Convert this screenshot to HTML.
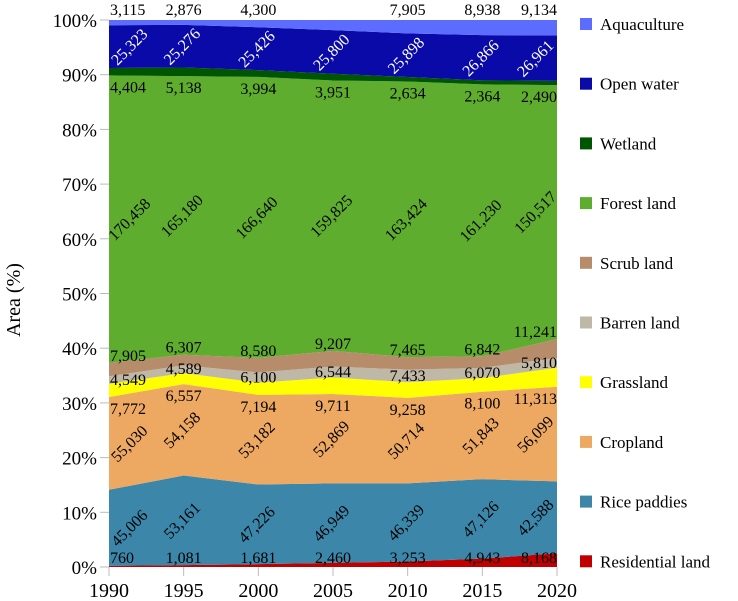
<!DOCTYPE html>
<html><head><meta charset="utf-8">
<style>
body{margin:0;background:#fff;}
svg{display:block;font-family:"Liberation Serif",serif;}
</style></head>
<body>
<svg id="chart" width="738" height="601"></svg>
<script>
const years=[1990,1995,2000,2005,2010,2015,2020];
const categories=["Residential land","Rice paddies","Cropland","Grassland","Barren land","Scrub land","Forest land","Wetland","Open water","Aquaculture"];
const residential=[760,1081,1681,2460,3253,4943,8168];
const rice=[45006,53161,47226,46949,46339,47126,42588];
const cropland=[55030,54158,53182,52869,50714,51843,56099];
const grassland=[7772,6557,7194,9711,9258,8100,11313];
const barren=[4549,4589,6100,6544,7433,6070,5810];
const scrub=[7905,6307,8580,9207,7465,6842,11241];
const forest=[170458,165180,166640,159825,163424,161230,150517];
const wetland=[4404,5138,3994,3951,2634,2364,2490];
const openWater=[25323,25276,25426,25800,25898,26866,26961];
const aquaculture=[3115,2876,4300,6000,7905,8938,9134];
const yTicks=[0,10,20,30,40,50,60,70,80,90,100];
const series=[residential,rice,cropland,grassland,barren,scrub,forest,wetland,openWater,aquaculture];
const colors=["#c00000","#3b86a9","#eda862","#ffff00","#bfb8a6","#b78c6a","#5fad2e","#005500","#0a0aa8","#5b6cff"];
const rotated=[false,true,true,false,false,false,true,false,true,false];
const NS="http://www.w3.org/2000/svg";
const svg=document.getElementById('chart');
const X0=109,X1=557,Y0=567,Y1=20;
const xs=i=>X0+(X1-X0)*i/(years.length-1);
const ys=p=>Y0-(Y0-Y1)*p/100;
function mk(t,a,txt){const e=document.createElementNS(NS,t);for(const k in a)e.setAttribute(k,a[k]);if(txt!==undefined)e.textContent=txt;svg.appendChild(e);return e;}
const totals=years.map((_,i)=>series.reduce((s,a)=>s+a[i],0));
let cum=years.map(()=>0);
const bounds=[];
series.forEach((arr,si)=>{
  const lo=cum.slice();const hi=cum.map((c,i)=>c+arr[i]/totals[i]*100);
  bounds.push([lo,hi]);
  let d="";
  hi.forEach((v,i)=>{d+=(i?"L":"M")+xs(i)+","+ys(v);});
  for(let i=lo.length-1;i>=0;i--)d+="L"+xs(i)+","+ys(lo[i]);
  const p=mk('path',{d:d+"Z",fill:colors[si]});
  
  
  cum=hi;
});
yTicks.forEach(t=>{
  const l=mk('line',{x1:100,x2:X0,y1:ys(t),y2:ys(t),stroke:'#bbb','stroke-width':1});
  
  
  const tx=mk('text',{x:97,y:ys(t)+7,'text-anchor':'end','font-size':19},t+'%');
  
  
});
years.forEach((yr,i)=>{
  const l=mk('line',{x1:xs(i),x2:xs(i),y1:Y0,y2:576,stroke:'#bbb','stroke-width':1});
  
  
  const tx=mk('text',{x:xs(i),y:597,'text-anchor':'middle','font-size':20},yr);
  
  
});
const yt=mk('text',{x:0,y:0,'text-anchor':'middle','font-size':20,transform:'translate(20,300) rotate(-90)'},'Area (%)');


series.forEach((arr,si)=>{
  arr.forEach((v,i)=>{
    if(si===9&&i===3)return;
    const [lo,hi]=bounds[si];
    let y=ys((lo[i]+hi[i])/2);
    if(si===9)y=10;
    if(si===7)y=ys(lo[i])+12;
    if(si===5)y=ys(hi[i])-7;
    if(si===3)y=ys(lo[i])+12;
    if(si===0)y=Math.min(y,558);
    let x=xs(i),anchor='middle';
    const txt=v.toLocaleString('en-US');
    let t;
    if(rotated[si]){
      if(i===0)x+=22; if(i===years.length-1)x-=20;
      t=mk('text',{x:0,y:0,'text-anchor':'middle','font-size':16,fill:si===8?'#fff':'#000',transform:`translate(${x+2},${y+4}) rotate(-45)`},txt);
    }else{
      if(i===0){anchor='start';x=X0+1;} if(i===years.length-1){anchor='end';x=X1;}
      t=mk('text',{x:x,y:y+5,'text-anchor':anchor,'font-size':16,fill:'#000'},txt);
    }
    
    
  });
});
for(let k=0;k<categories.length;k++){
  const si=categories.length-1-k;
  const y=24+k*59.7;
  const r=mk('rect',{x:580,y:y-6,width:12,height:12,fill:colors[si]});
  
  
  const t=mk('text',{x:600,y:y+6,'font-size':17},categories[si]);
  
  
}
</script>
</body></html>
